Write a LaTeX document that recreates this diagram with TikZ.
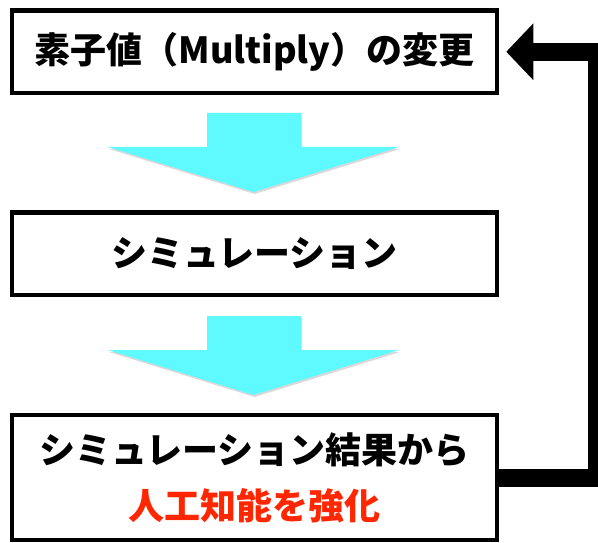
\documentclass[tikz,border=0pt]{standalone}
\usepackage{fontspec}
\setmainfont{Noto Sans CJK JP}
\usetikzlibrary{arrows.meta,shadows}
\definecolor{arrowcyan}{RGB}{94,250,255}
\definecolor{alertred}{RGB}{255,38,0}
\begin{document}
\begin{tikzpicture}[x=1pt,y=-1pt,
  box/.style={draw=black, line width=4.5pt, fill=white, minimum width=485pt,
    inner sep=0pt, font=\fontsize{36}{56}\selectfont\bfseries, align=center,
    drop shadow={shadow xshift=1.5pt, shadow yshift=-1.5pt, opacity=0.25}},
  flow/.style={fill=arrowcyan, draw=none,
    drop shadow={shadow xshift=1pt, shadow yshift=-2pt, opacity=0.3}},
  feedback/.style={draw=black, line width=18pt, line join=miter,
    -{Triangle[length=27pt,width=55pt]}}]
\useasboundingbox (0,0) rectangle (598,543);

\node[box, minimum height=82.5pt] (b1) at (254.5,51.75) {素子値（Multiply）の変更};
\node[box, minimum height=82.5pt] (b2) at (254.5,253.75) {シミュレーション};
\node[box, minimum height=125pt] (b3) at (254.5,477.5)
  {シミュレーション結果から\\\textcolor{alertred}{人工知能を強化}};

\fill[flow] (207,113) -- (301,113) -- (301,147) -- (399,147) -- (253.5,192)
  -- (108,147) -- (207,147) -- cycle;
\fill[flow] (207,316) -- (301,316) -- (301,350) -- (399,350) -- (253.5,395)
  -- (108,350) -- (207,350) -- cycle;

\coordinate (tgt) at ([xshift=7pt]b1.east);
\draw[feedback] (b3.east) -- ++(98,0) |- (tgt);
\end{tikzpicture}
\end{document}
